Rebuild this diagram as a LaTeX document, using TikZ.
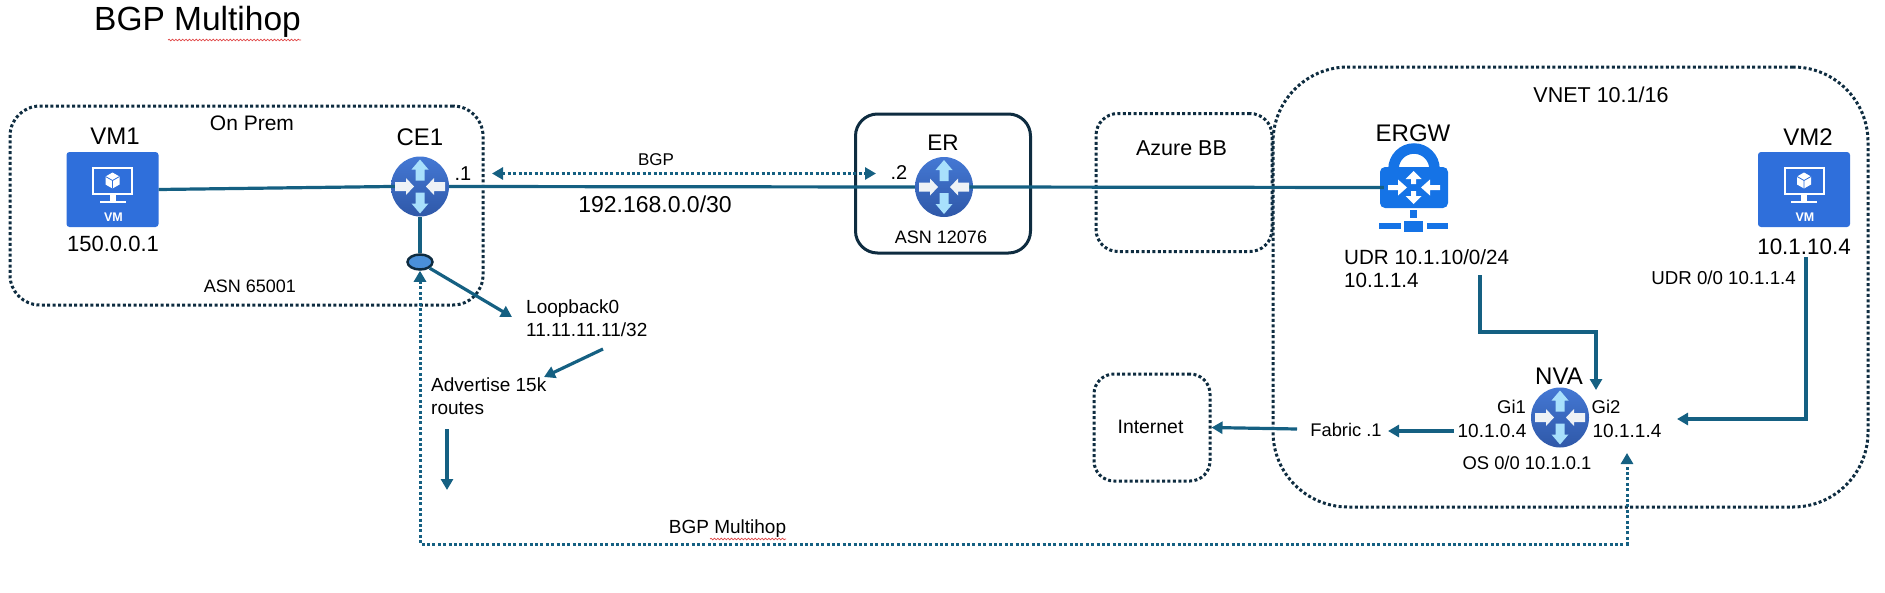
\documentclass[tikz,border=0pt]{standalone}
\usepackage{fontspec}
\setmainfont{Liberation Sans}
\usetikzlibrary{arrows.meta,shapes.geometric,decorations.pathmorphing}
\definecolor{teal}{HTML}{156082}
\definecolor{navy}{HTML}{0E2C40}
\definecolor{vmblue}{HTML}{2F6FDB}
\definecolor{gwblue}{HTML}{1573E6}
\definecolor{routertop}{HTML}{4478D4}
\definecolor{routerbot}{HTML}{2F58A8}
\definecolor{loopfill}{HTML}{4A90D9}
\definecolor{squig}{HTML}{E04848}
\definecolor{arrowsky}{HTML}{A8E0FC}
\definecolor{arrowwhite}{HTML}{EEF2F6}
\tikzset{
  txt/.style={inner sep=0pt,font=\fontsize{#1}{#1}\selectfont},
  mltxt/.style={inner sep=0pt,align=left,anchor=west,font=\fontsize{#1}{23.3}\selectfont},
  zone/.style={draw=navy,line width=3pt,dash pattern=on 3pt off 2.4pt,inner sep=0pt,rectangle},
  solidzone/.style={draw=navy,line width=3pt,inner sep=0pt,rectangle},
  link/.style={draw=teal,line width=3.2pt},
  flow/.style={draw=teal,line width=3.2pt,-{Triangle[length=11pt,width=12pt]}},
  dotflow/.style={draw=teal,line width=3pt,dash pattern=on 3pt off 2.4pt,{Triangle[length=11pt,width=12pt]}-{Triangle[length=11pt,width=12pt]}},
  squiggle/.style={draw=squig,line width=.7pt,decorate,decoration={snake,segment length=3.4pt,amplitude=.8pt}},
  routerbody/.style={ellipse,minimum width=58pt,minimum height=60pt,inner sep=0pt,top color=routertop,bottom color=routerbot},
  vmbody/.style={rectangle,fill=vmblue,rounded corners=3pt,minimum width=92pt,minimum height=75pt,inner sep=0pt},
  routerarrows/.pic={
    \fill[arrowsky] (0,-27)--(8.5,-17)--(4.5,-17)--(4.5,-6)--(-4.5,-6)--(-4.5,-17)--(-8.5,-17)--cycle;
    \fill[arrowsky] (0,27)--(8.5,17)--(4.5,17)--(4.5,6)--(-4.5,6)--(-4.5,17)--(-8.5,17)--cycle;
    \fill[arrowwhite] (-6,0)--(-14,-8.5)--(-14,-4.5)--(-25,-4.5)--(-25,4.5)--(-14,4.5)--(-14,8.5)--cycle;
    \fill[arrowwhite] (6,0)--(14,-8.5)--(14,-4.5)--(25,-4.5)--(25,4.5)--(14,4.5)--(14,8.5)--cycle;
  },
  vmicon/.pic={
    \draw[white,line width=2pt] (-19.5,-22) rectangle (19.5,4);
    \fill[white] (-3,4) rectangle (3,11);
    \fill[white] (-13,11) rectangle (13,13);
    \fill[white] (0,-17)--(7,-13)--(7,-5)--(0,-1)--(-7,-5)--(-7,-13)--cycle;
    \draw[vmblue,line width=.8pt] (-7,-13)--(0,-9)--(7,-13) (0,-9)--(0,-1);
    \node[inner sep=0pt,text=white,font=\fontsize{12.5}{12.5}\selectfont\bfseries] (-tag) at (1,28) {VM};
  },
}
\begin{document}
\begin{tikzpicture}[x=1pt,y=-1pt]
\useasboundingbox (0,0) rectangle (1885,592);
% zones
\node[zone,minimum width=473pt,minimum height=199pt,rounded corners=30pt] (onprem) at (246.5,205.5) {};
\node[solidzone,minimum width=175pt,minimum height=139pt,rounded corners=22pt] (erbox) at (943,183.5) {};
\node[zone,minimum width=176pt,minimum height=138pt,rounded corners=22pt] (azure) at (1184,182.5) {};
\node[zone,minimum width=595pt,minimum height=440pt,rounded corners=75pt] (vnet) at (1570.5,287) {};
\node[zone,minimum width=116pt,minimum height=107pt,rounded corners=20pt] (internet) at (1152,427.5) {};
% device anchors
\node[vmbody] (vm1) at (112.5,189.5) {};
\node[vmbody] (vm2) at (1804,189.5) {};
\node[routerbody] (ce1) at (420,186.5) {};
\node[routerbody] (er) at (944,187) {};
\node[routerbody] (nva) at (1560,417.5) {};
\node[rectangle,fill=gwblue,rounded corners=5pt,minimum width=68pt,minimum height=41pt,inner sep=0pt] (ergw) at (1414,187.5) {};
\node[ellipse,fill=loopfill,draw=navy,line width=2.5pt,minimum width=25pt,minimum height=15pt,inner sep=0pt] (lo0) at (420,262) {};
% texts
\node[txt=33.5] (title) at (197.5,22) {BGP Multihop};
\node[txt=24] (vm1lab) at (115,136) {VM1};
\node[txt=22] (vm1ip) at (113,244) {150.0.0.1};
\node[txt=21] (onpremlab) at (252,123) {On Prem};
\node[txt=18] (asn1) at (250,286) {ASN 65001};
\node[txt=24] (ce1lab) at (420,137) {CE1};
\node[txt=20] (dot1) at (463,174) {.1};
\node[txt=20] (dot2) at (899,173) {.2};
\node[txt=17] (bgplab) at (656,160) {BGP};
\node[txt=23] (subnet) at (655,204) {192.168.0.0/30};
\node[txt=22.5] (erlab) at (943,143) {ER};
\node[txt=18] (asn2) at (941,237) {ASN 12076};
\node[txt=21.5] (azurelab) at (1181.5,148) {Azure BB};
\node[txt=21.5] (vnetlab) at (1601,95) {VNET 10.1/16};
\node[txt=24] (ergwlab) at (1413,133) {ERGW};
\node[txt=24] (vm2lab) at (1808,137) {VM2};
\node[txt=22.4] (vm2ip) at (1804,247) {10.1.10.4};
\node[mltxt=20.6] (udr1) at (1344,268.5) {UDR 10.1.10/0/24\\10.1.1.4};
\node[txt=18.7,anchor=east] (udr2) at (1796,278) {UDR 0/0 10.1.1.4};
\node[txt=24] (nvalab) at (1559,376) {NVA};
\node[txt=18.5] (gi1) at (1511.5,407) {Gi1};
\node[txt=18.5] (gi2) at (1606,407) {Gi2};
\node[txt=19] (nvaip1) at (1492,431) {10.1.0.4};
\node[txt=19] (nvaip2) at (1627,431) {10.1.1.4};
\node[txt=18.4] (os) at (1527,463) {OS 0/0 10.1.0.1};
\node[txt=18.3] (fabric) at (1346,430) {Fabric .1};
\node[txt=19.4] (internetlab) at (1150.5,427) {Internet};
\node[mltxt=19] (loop) at (526,318.5) {Loopback0\\11.11.11.11/32};
\node[mltxt=19] (adv) at (431,396) {Advertise 15k\\routes};
\node[txt=19] (mhlab) at (727.5,529) {BGP Multihop};
% free ends
\coordinate (loopEnd) at (512,317);
\coordinate (advStart) at (603,349);
\coordinate (advEnd) at (544,377);
\coordinate (downStart) at (447,429);
\coordinate (downEnd) at (447,490);
\coordinate (bgpL) at (492,173.5);
\coordinate (bgpR) at (876,173.5);
\coordinate (mhA) at (420,544);
\coordinate (mhB) at (1627,544);
\coordinate (mhTip) at (1627,453);
\coordinate (gwStart) at (1480,275);
\coordinate (gwTurn) at (1596,332);
\coordinate (gwTip) at (1596,390);
\coordinate (vmStart) at (1806,257);
\coordinate (vmTip) at (1677,419);
\coordinate (nvaOut) at (1454,431);
\coordinate (fabricTip) at (1388,431);
\coordinate (fabricOut) at (1297,429);
% connectors
\draw[link,shorten >=-6pt] (vm1.east) -- (ce1.west);
\draw[link] (ce1.east) -- (er.west);
\draw[link,shorten <=-4pt,shorten >=-4pt] (er.east) -- (ergw.west);
\draw[link] (ce1.south) -- (lo0.north);
\draw[flow] (lo0.south east) -- (loopEnd);
\draw[flow] (advStart) -- (advEnd);
\draw[flow] (downStart) -- (downEnd);
\draw[dotflow] (bgpL) -- (bgpR);
\draw[dotflow] (lo0.south) -- (mhA) -- (mhB) -- (mhTip);
\draw[flow] (gwStart) |- (gwTurn) -- (gwTip);
\draw[flow] (vmStart) |- (vmTip);
\draw[flow] (nvaOut) -- (fabricTip);
\draw[flow] (fabricOut) -- (internet.east);
% icons
\pic at (ce1) {routerarrows};
\pic at (er) {routerarrows};
\pic at (nva) {routerarrows};
\pic (vmiA) at (vm1) {vmicon};
\pic (vmiB) at (vm2) {vmicon};
% gateway lock: shackle, arrows, network bar
\draw[gwblue,line width=10.5pt] (1393.5,169) arc[start angle=180,end angle=360,radius=20.5];
\fill[white] (1413.5,171)--(1421.5,179)--(1416,179)--(1416,184)--(1411,184)--(1411,179)--(1405.5,179)--cycle;
\fill[white] (1413.5,204)--(1421.5,196)--(1416,196)--(1416,191)--(1411,191)--(1411,196)--(1405.5,196)--cycle;
\fill[white] (1407,187.5)--(1398,179.5)--(1398,185)--(1388,185)--(1388,190)--(1398,190)--(1398,195.5)--cycle;
\fill[white] (1421,187.5)--(1430,179.5)--(1430,185)--(1440,185)--(1440,190)--(1430,190)--(1430,195.5)--cycle;
\fill[gwblue] (1410,210) rectangle (1417,218);
\fill[gwblue] (1404,221) rectangle (1423,232);
\fill[gwblue] (1379,223) rectangle (1401,229);
\fill[gwblue] (1427,223) rectangle (1448,229);
% spell-check squiggles
\coordinate (sqA) at (168,40);
\coordinate (sqB) at (301,40);
\coordinate (sqC) at (710,539);
\coordinate (sqD) at (786,539);
\draw[squiggle] (sqA) -- (sqB);
\draw[squiggle] (sqC) -- (sqD);
\end{tikzpicture}
\end{document}
